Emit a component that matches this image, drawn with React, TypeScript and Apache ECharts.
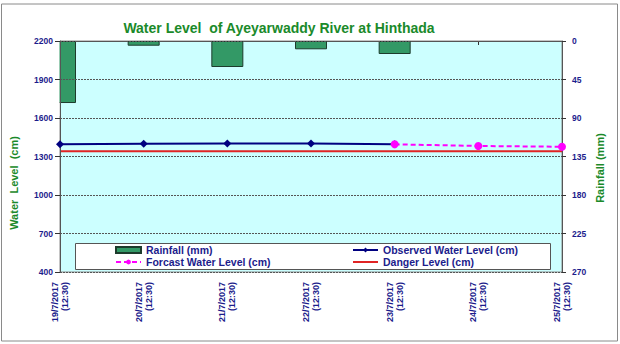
import React, { useEffect, useRef } from "react";
import * as echarts from "echarts";

const categories = [
  "19/7/2017\n(12:30)",
  "20/7/2017\n(12:30)",
  "21/7/2017\n(12:30)",
  "22/7/2017\n(12:30)",
  "23/7/2017\n(12:30)",
  "24/7/2017\n(12:30)",
  "25/7/2017\n(12:30)",
];
const rainfall = [72.5, 5.5, 30.4, 9.7, 15.2, null, null];
const observed = [1395, 1399, 1402, 1402, 1395, null, null];
const forecast = [null, null, null, null, 1395, 1382, 1376];
const danger = [1340, 1340, 1340, 1340, 1340, 1340, 1340];

const FONT = "'Liberation Sans', Arial, sans-serif";
const NAVY = "#1c1c8c";
const GREEN = "#1a8a2a";

export default function App() {
  const ref = useRef<HTMLDivElement>(null);
  useEffect(() => {
    if (!ref.current) return;
    const chart = echarts.init(ref.current, null, { renderer: "svg" });
    const legendText = {
      color: NAVY,
      fontWeight: "bold",
      fontSize: 10.5,
      lineHeight: 12,
      fontFamily: FONT,
    };
    chart.setOption({
      animation: false,
      backgroundColor: "#ffffff",
      textStyle: { fontFamily: FONT },
      grid: {
        left: 60,
        right: 58,
        top: 41,
        bottom: 72,
        show: true,
        backgroundColor: "#ccffff",
        borderColor: "#8a8a8a",
        borderWidth: 1,
      },
      graphic: [
        {
          type: "rect",
          shape: { x: 1.5, y: 4, width: 616, height: 337 },
          style: { fill: "none", stroke: "#8a8a8a", lineWidth: 1 },
          silent: true,
        },
        {
          type: "rect",
          z: 3,
          shape: { x: 20, y: 36, width: 39.5, height: 80 },
          style: { fill: "#ffffff" },
          silent: true,
        },
        {
          type: "text",
          x: 279,
          y: 28,
          style: {
            text: "Water Level  of Ayeyarwaddy River at Hinthada",
            fill: GREEN,
            font: `bold 14px ${FONT}`,
            textAlign: "center",
            textVerticalAlign: "middle",
          },
        },
        {
          type: "text",
          x: 14,
          y: 183,
          rotation: Math.PI / 2,
          style: {
            text: "Water  Level  (cm)",
            fill: GREEN,
            font: `bold 11px ${FONT}`,
            textAlign: "center",
            textVerticalAlign: "middle",
          },
        },
        {
          type: "text",
          x: 600,
          y: 168,
          rotation: Math.PI / 2,
          style: {
            text: "Rainfall (mm)",
            fill: GREEN,
            font: `bold 11px ${FONT}`,
            textAlign: "center",
            textVerticalAlign: "middle",
          },
        },
        {
          type: "rect",
          z: 10,
          shape: { x: 75.5, y: 243.5, width: 475, height: 26 },
          style: { fill: "#ffffff", stroke: "#555555", lineWidth: 1 },
          silent: true,
        },
      ],
      legend: [
        {
          z: 20,
          orient: "vertical",
          left: 115,
          top: 244,
          itemWidth: 25,
          itemHeight: 6,
          itemGap: 0,
          padding: 0,
          textStyle: legendText,
          data: [
            { name: "Rainfall (mm)", icon: "rect" },
            { name: "Forcast Water Level (cm)" },
          ],
        },
        {
          z: 20,
          orient: "vertical",
          left: 352,
          top: 244,
          itemWidth: 25,
          itemHeight: 6,
          itemGap: 0,
          padding: 0,
          textStyle: legendText,
          data: [
            { name: "Observed Water Level (cm)" },
            { name: "Danger Level (cm)", itemStyle: { opacity: 0 } },
          ],
        },
      ],
      xAxis: {
        type: "category",
        data: categories,
        boundaryGap: false,
        axisLine: { lineStyle: { color: "#555555", width: 1 } },
        axisTick: { show: true, length: 4, lineStyle: { color: "#333" } },
        axisLabel: {
          rotate: 90,
          interval: 0,
          margin: 10,
          color: NAVY,
          fontWeight: "bold",
          fontSize: 9,
          lineHeight: 10,
          fontFamily: FONT,
        },
        splitLine: { show: false },
      },
      yAxis: [
        {
          type: "value",
          z: 5,
          min: 400,
          max: 2200,
          interval: 300,
          position: "left",
          axisLine: { show: true, lineStyle: { color: "#555555" } },
          axisTick: { show: true, length: 5, lineStyle: { color: "#333" } },
          axisLabel: {
            margin: 7,
            color: NAVY,
            fontWeight: "bold",
            fontSize: 8.5,
            fontFamily: FONT,
            formatter: (v: number) => String(v),
          },
          splitLine: {
            show: true,
            lineStyle: { color: "#555555", type: [2, 1], width: 1 },
          },
        },
        {
          type: "value",
          z: 5,
          min: 0,
          max: 270,
          interval: 45,
          inverse: true,
          position: "right",
          axisLine: { show: true, lineStyle: { color: "#555555" } },
          axisTick: { show: true, length: 4, lineStyle: { color: "#333" } },
          axisLabel: {
            margin: 10,
            color: NAVY,
            fontWeight: "bold",
            fontSize: 8.5,
            fontFamily: FONT,
            formatter: (v: number) => String(v),
          },
          splitLine: { show: false },
        },
      ],
      series: [
        {
          name: "Rainfall (mm)",
          type: "bar",
          yAxisIndex: 1,
          data: rainfall,
          barWidth: 32,
          clip: true,
          itemStyle: { color: "#339966", borderColor: "#1d3b2c", borderWidth: 1 },
        },
        {
          name: "Observed Water Level (cm)",
          type: "line",
          data: observed,
          symbol: "diamond",
          symbolSize: 8,
          lineStyle: { color: "#000080", width: 2 },
          itemStyle: { color: "#000080" },
          z: 5,
        },
        {
          name: "Forcast Water Level (cm)",
          type: "line",
          data: forecast,
          symbol: "circle",
          symbolSize: 8,
          lineStyle: { color: "#ff00ff", width: 2, type: [5, 3] },
          itemStyle: { color: "#ff00ff" },
          z: 5,
        },
        {
          name: "Danger Level (cm)",
          type: "line",
          data: danger,
          symbol: "none",
          lineStyle: { color: "#e02424", width: 2 },
          itemStyle: { color: "#e02424" },
          z: 4,
        },
      ],
    });
    return () => chart.dispose();
  }, []);
  return (
    <div
      ref={ref}
      style={{ position: "fixed", left: 0, top: 0, width: 620, height: 344 }}
    />
  );
}
